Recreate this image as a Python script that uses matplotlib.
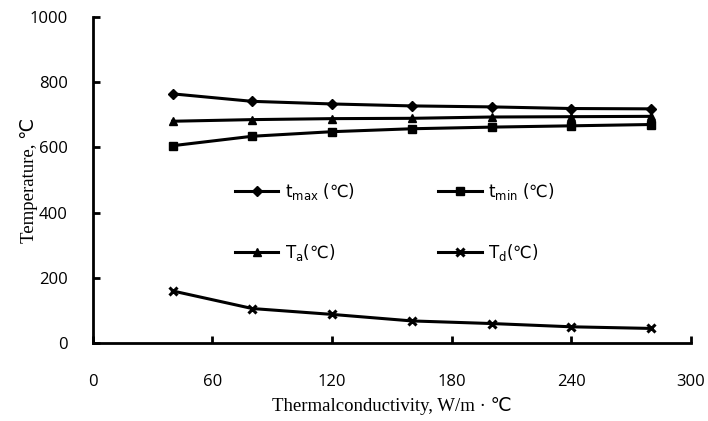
import matplotlib.pyplot as plt

conductivity = [40, 80, 120, 160, 200, 240, 280]
t_max = [764, 741, 733, 727, 724, 719, 718]
t_min = [605, 634, 648, 657, 662, 666, 670]
t_a = [680, 685, 688, 689, 693, 694, 695]
t_d = [160, 106, 88, 68, 60, 50, 45]

x_ticks = [0, 60, 120, 180, 240, 300]
y_ticks = [0, 200, 400, 600, 800, 1000]

fig = plt.figure(figsize=(7.08, 4.21), dpi=100)
ax = fig.add_axes([0.131, 0.185, 0.845, 0.775])

style = dict(color="black", linewidth=2.2)
h_max, = ax.plot(conductivity, t_max, marker="D", markersize=5, label=r"t$_{\rm max}$ (℃)", **style)
h_min, = ax.plot(conductivity, t_min, marker="s", markersize=6, label=r"t$_{\rm min}$ (℃)", **style)
h_a, = ax.plot(conductivity, t_a, marker="^", markersize=6, label=r"T$_{\rm a}$(℃)", **style)
h_d, = ax.plot(conductivity, t_d, marker="x", markersize=6, markeredgewidth=2.2, label=r"T$_{\rm d}$(℃)", **style)

ax.set_xlim(0, 300)
ax.set_ylim(0, 1000)
ax.set_xticks(x_ticks)
ax.set_yticks(y_ticks)
for side in ("top", "right"):
    ax.spines[side].set_visible(False)
for side in ("left", "bottom"):
    ax.spines[side].set_linewidth(2)
ax.tick_params(axis="both", direction="in", length=5, width=2, labelsize=12)
ax.tick_params(axis="x", pad=22)
ax.tick_params(axis="y", pad=18)
for lbl in ax.get_xticklabels() + ax.get_yticklabels():
    lbl.set_family("Open Sans")

serif = ["Liberation Serif", "DejaVu Sans"]
ax.set_xlabel("Thermalconductivity, W/m · ℃", family=serif, fontsize=13.5, labelpad=5)
ax.set_ylabel("Temperature, ℃", family=serif, fontsize=13.5, labelpad=-6)

# column-major fill, so order gives t_max, t_min on the first row
handles = [h_max, h_a, h_min, h_d]
ax.legend(handles, [h.get_label() for h in handles], loc="center",
          bbox_to_anchor=(0.505, 0.372), ncol=2, frameon=False,
          fontsize=12, handlelength=2.6, labelspacing=2.4, columnspacing=5.0,
          handletextpad=0.4)

fig.savefig("out.png")
